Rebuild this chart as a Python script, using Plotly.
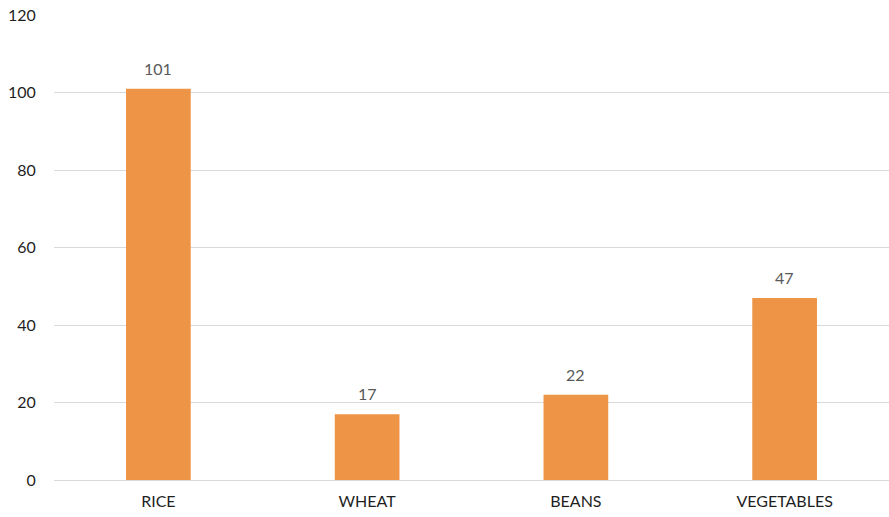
import plotly.graph_objects as go

# Crop quantities
categories = ["RICE", "WHEAT", "BEANS", "VEGETABLES"]
values = [101, 17, 22, 47]
y_ticks = [0, 20, 40, 60, 80, 100, 120]

BAR_COLOR = "#EE9446"
GRID_COLOR = "#D9D9D9"
FONT = "Lato, Carlito, 'Liberation Sans', sans-serif"

fig = go.Figure(
    go.Bar(
        x=categories,
        y=values,
        marker=dict(color=BAR_COLOR, line=dict(width=0)),
        hoverinfo="x+y",
    )
)

# Value labels above each bar
for cat, val in zip(categories, values):
    fig.add_annotation(
        x=cat, y=val, text=str(val), showarrow=False,
        yanchor="bottom", yshift=9,
        font=dict(family=FONT, size=16, color="#595959"),
    )

fig.update_layout(
    width=889, height=517,
    margin=dict(l=54, r=0, t=15, b=37),
    paper_bgcolor="white", plot_bgcolor="white",
    bargap=0.69,
    showlegend=False,
    font=dict(family=FONT, size=16, color="#1F1F1F"),
)
fig.update_xaxes(
    showgrid=False, showline=False, zeroline=False,
    ticks="outside", ticklen=7, tickcolor="rgba(0,0,0,0)",
    tickfont=dict(size=16, color="#1F1F1F"),
)
fig.update_yaxes(
    range=[0, 120], tickvals=y_ticks,
    showgrid=True, gridcolor=GRID_COLOR, gridwidth=1.3,
    zeroline=True, zerolinecolor=GRID_COLOR, zerolinewidth=1.3,
    showline=False,
    ticks="outside", ticklen=14, tickcolor="rgba(0,0,0,0)",
    tickfont=dict(size=16, color="#1F1F1F"),
)

fig.write_html("out.html")
